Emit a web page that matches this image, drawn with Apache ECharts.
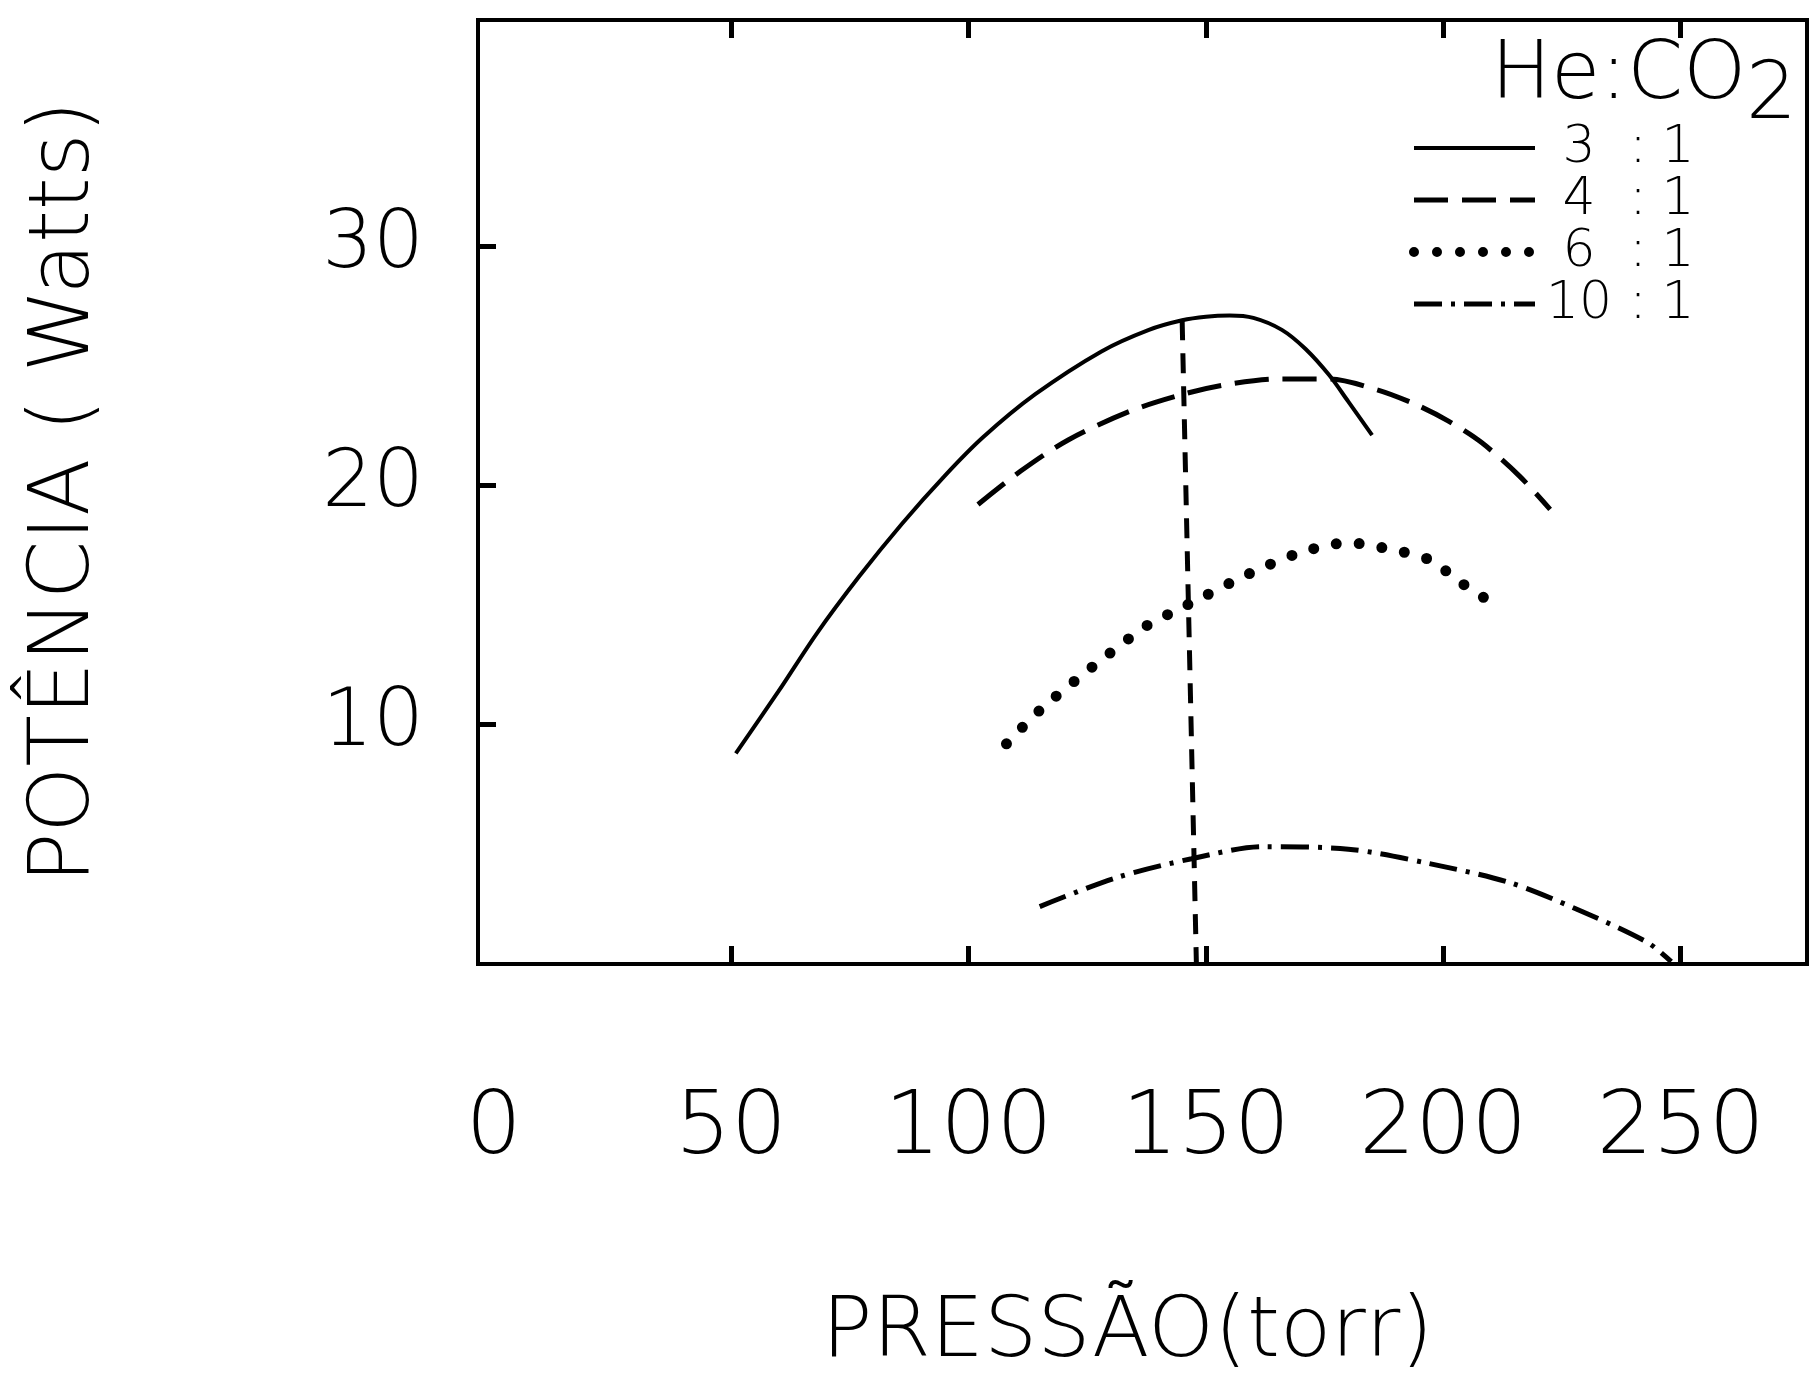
<!DOCTYPE html>
<html>
<head>
<meta charset="utf-8">
<script src="https://cdn.jsdelivr.net/npm/echarts@6/dist/echarts.min.js"></script>
<style>
  html, body { margin: 0; padding: 0; background: #fff; }
  #chartDiv { width: 1814px; height: 1379px; }
</style>
</head>
<body>
<div id="chartDiv"></div>
<script>
// He:CO2 mixtures, power vs pressure
const seriesNames = ["3 : 1", "4 : 1", "6 : 1", "10: 1"];

const pressure31 = [51, 60, 68, 77, 86, 95, 103, 114, 128, 138, 145, 150, 155, 160, 166, 171, 176, 180, 185];
const power31 = [8.8, 11.4, 13.8, 16.2, 18.4, 20.4, 22.0, 23.8, 25.6, 26.5, 26.9, 27.05, 27.1, 27.0, 26.5, 25.7, 24.6, 23.5, 22.1];

const pressure41 = [102, 111, 121, 134, 145, 154, 165, 176, 186, 194, 201, 208, 216, 222.5];
const power41 = [19.2, 20.6, 21.9, 23.1, 23.8, 24.2, 24.45, 24.45, 24.0, 23.4, 22.7, 21.8, 20.4, 19.0];

const pressure61 = [108, 115, 126, 138, 143, 149, 159, 170, 180, 189.5, 197, 204, 211];
const power61 = [9.2, 10.6, 12.4, 14.2, 14.7, 15.3, 16.3, 17.2, 17.6, 17.3, 16.9, 15.9, 15.0];

const pressure101 = [115, 131, 147, 162, 180, 197, 214, 228, 243, 248];
const power101 = [2.4, 3.6, 4.4, 4.9, 4.8, 4.2, 3.4, 2.3, 0.9, 0.1];

// vertical marker line at the optimum pressure
const markPressure = [145, 148];
const markPower = [26.9, 0];

const xLabels = [0, 50, 100, 150, 200, 250];
const xTicks = [50, 100, 150, 200, 250];
const yTicks = [10, 20, 30];

function pairs(xs, ys) {
    return xs.map((x, i) => [x, ys[i]]);
}

const font = "DejaVu Sans";
const legendWidths = [4, 5, 10, 5];
let chart = echarts.init(document.getElementById("chartDiv"));

let options = {
    backgroundColor: "#fff",
    animation: false,
    title: {
        text: "{a|He:CO}{b|2}",
        right: 12,
        top: 32,
        textStyle: {
            rich: {
                a: { fontFamily: font, fontSize: 80, fontWeight: 200, color: "#000", lineHeight: 80 },
                b: { fontFamily: font, fontSize: 80, fontWeight: 200, color: "#000", lineHeight: 80, padding: [40, 0, 0, 0] },
            },
        },
    },
    legend: {
        orient: "vertical",
        left: 1404,
        top: 117,
        itemWidth: 121,
        itemHeight: 20,
        itemGap: 0,
        itemStyle: { opacity: 0 },
        data: seriesNames.map((n, i) => ({ name: n, lineStyle: { width: legendWidths[i] } })),
        formatter: function (name) {
            let parts = name.split(":");
            return "{n|" + parts[0].trim() + "}{c|:}{o|" + parts[1].trim() + "}";
        },
        textStyle: {
            fontFamily: font,
            color: "#000",
            rich: {
                n: { fontFamily: font, fontSize: 52, fontWeight: 200, width: 78, align: "right", lineHeight: 48 },
                c: { fontFamily: font, fontSize: 52, fontWeight: 200, width: 40, align: "center", lineHeight: 48 },
                o: { fontFamily: font, fontSize: 52, fontWeight: 200, width: 40, align: "center", lineHeight: 48 },
            },
        },
    },
    grid: {
        left: 478,
        top: 20,
        right: 7,
        bottom: 415,
        outerBoundsMode: "none",
        containLabel: false,
        show: true,
        borderColor: "#000",
        borderWidth: 4,
    },
    xAxis: [
        {
            type: "value",
            min: -3.3,
            max: 276.6,
            name: "PRESSÃO(torr)",
            nameLocation: "middle",
            nameGap: 328,
            nameTextStyle: { fontFamily: font, fontSize: 84, fontWeight: 200, color: "#000", padding: [0, 30, 0, 0] },
            axisLine: { show: true, onZero: false, lineStyle: { color: "#000", width: 4 } },
            axisTick: { show: true, inside: true, length: 18, customValues: xTicks, lineStyle: { color: "#000", width: 5 } },
            axisLabel: { show: true, customValues: xLabels, margin: 122, fontFamily: font, fontSize: 88, fontWeight: 200, color: "#000" },
            splitLine: { show: false },
        },
        {
            type: "value",
            position: "top",
            min: -3.3,
            max: 276.6,
            axisLine: { show: true, onZero: false, lineStyle: { color: "#000", width: 4 } },
            axisTick: { show: true, inside: true, length: 18, customValues: xTicks, lineStyle: { color: "#000", width: 5 } },
            axisLabel: { show: false },
            splitLine: { show: false },
        },
    ],
    yAxis: {
        type: "value",
        min: 0,
        max: 39.45,
        name: "POTÊNCIA ( Watts)",
        nameLocation: "middle",
        nameGap: 370,
        nameTextStyle: { fontFamily: font, fontSize: 84, fontWeight: 200, color: "#000" },
        axisLine: { show: true, onZero: false, lineStyle: { color: "#000", width: 4 } },
        axisTick: { show: true, inside: true, length: 18, customValues: yTicks, lineStyle: { color: "#000", width: 5 } },
        axisLabel: { show: true, customValues: yTicks, margin: 54, fontFamily: font, fontSize: 80, fontWeight: 200, color: "#000" },
        splitLine: { show: false },
    },
    series: [
        {
            name: seriesNames[0],
            type: "line",
            smooth: 0.3,
            symbol: "none",
            data: pairs(pressure31, power31),
            lineStyle: { color: "#000", width: 4, type: "solid" },
            itemStyle: { color: "#000" },
        },
        {
            name: seriesNames[1],
            type: "line",
            smooth: 0.3,
            symbol: "none",
            data: pairs(pressure41, power41),
            lineStyle: { color: "#000", width: 5, type: [34, 14] },
            itemStyle: { color: "#000" },
        },
        {
            name: seriesNames[2],
            type: "line",
            smooth: 0.3,
            symbol: "none",
            data: pairs(pressure61, power61),
            lineStyle: { color: "#000", width: 11, type: [0, 23], cap: "round" },
            itemStyle: { color: "#000" },
        },
        {
            name: seriesNames[3],
            type: "line",
            smooth: 0.3,
            symbol: "none",
            data: pairs(pressure101, power101),
            lineStyle: { color: "#000", width: 5, type: [28, 9, 4, 9] },
            itemStyle: { color: "#000" },
        },
        {
            name: "marker",
            type: "line",
            symbol: "none",
            data: pairs(markPressure, markPower),
            lineStyle: { color: "#000", width: 5, type: [20, 13] },
        },
    ],
};
chart.setOption(options);
</script>
</body>
</html>
